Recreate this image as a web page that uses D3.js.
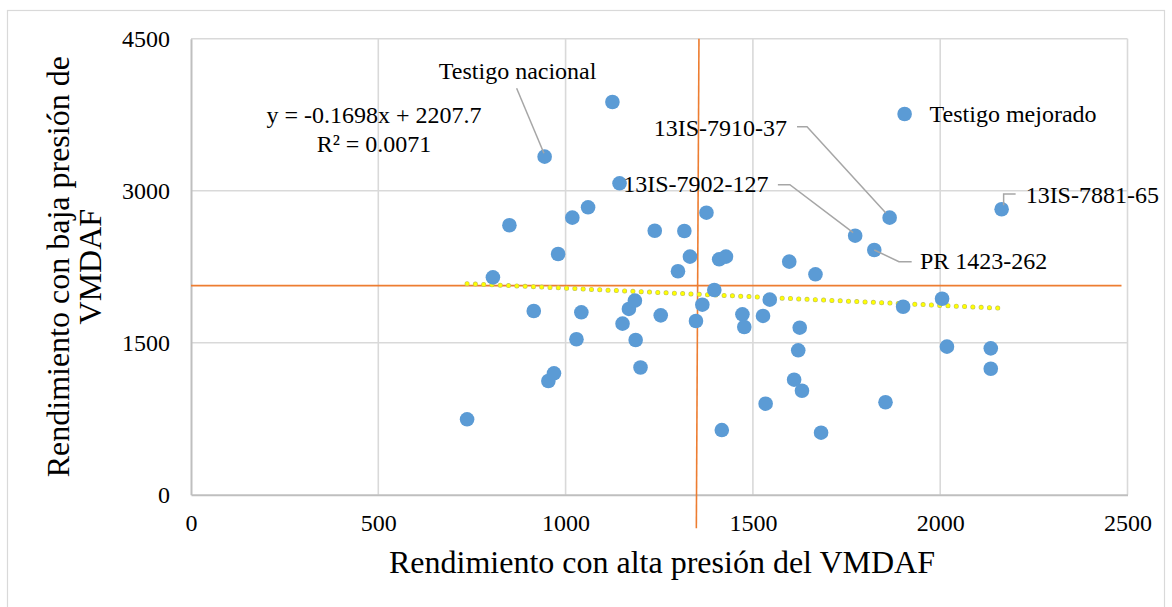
<!DOCTYPE html>
<html>
<head>
<meta charset="utf-8">
<script src="https://cdnjs.cloudflare.com/ajax/libs/d3/7.8.5/d3.min.js"></script>
<style>
  body { margin: 0; background: #fff; }
  text { font-family: "Liberation Serif", "Times New Roman", serif; fill: #000; }
</style>
</head>
<body>
<div id="chart"></div>
<script>
// rendimiento con alta presion (x) y con baja presion (y) del VMDAF
var alta = [737, 806, 850, 915, 944, 954, 969, 980, 1018, 1029, 1042, 1060, 1125, 1144, 1152,
    1169, 1185, 1187, 1200, 1238, 1254, 1300, 1317, 1332, 1348, 1365, 1376, 1397, 1410, 1428,
    1417, 1472, 1477, 1534, 1545, 1597, 1610, 1527, 1621, 1625, 1631, 1667, 1682, 1773, 1824,
    1865, 1854, 1901, 2005, 2018, 2135, 2135, 2164, 1905];
var baja = [744, 2145, 2659, 1813, 3336, 1122, 1198, 2375, 2734, 1534, 1800, 2836, 3875, 3073, 1688,
    1833, 1915, 1527, 1255, 2605, 1770, 2205, 2602, 2349, 1714, 1875, 2783, 2020, 2323, 2349,
    638, 1780, 1655, 898, 1925, 2300, 1135, 1764, 1425, 1648, 1026, 2175, 612, 2556, 2415,
    2734, 912, 1855, 1934, 1461, 1444, 1243, 2817, 3757];

// puntos con nombre
var etiquetas = ["Testigo nacional", "13IS-7902-127", "PR 1423-262", "13IS-7910-37", "13IS-7881-65", "Testigo mejorado"];
var etiquetaIdx = [4, 43, 44, 45, 52, 53];

var xTicks = [0, 500, 1000, 1500, 2000, 2500];
var yTicks = [0, 1500, 3000, 4500];

// tendencia lineal (de Excel)
var pendiente = -0.1698, intercepto = 2207.7;
var ecuacion = ["y = -0.1698x + 2207.7", "R\u00b2 = 0.0071"];

// lineas naranjas (medias)
var lineaHorizX = [0, 2484], lineaHorizY = [2063, 2063];
var lineaVertX = [1356, 1349], lineaVertY = [4500, -330];

var W = 1172, H = 607;
var margin = { top: 38.7, left: 191, right: 44.5, bottom: 112.3 };
var width = W - margin.left - margin.right,
    height = H - margin.top - margin.bottom;

var svg = d3.select("#chart").append("svg")
    .attr("width", W)
    .attr("height", H);

// marco exterior
svg.append("rect")
    .attr("x", 7.5).attr("y", 10.5)
    .attr("width", 1157).attr("height", 640)
    .attr("fill", "none")
    .attr("stroke", "#d9d9d9")
    .attr("stroke-width", 1.2);

var g = svg.append("g")
    .attr("transform", "translate(" + margin.left + "," + margin.top + ")");

var x = d3.scaleLinear().domain([0, 2500]).range([0, width]);
var y = d3.scaleLinear().domain([0, 4500]).range([height, 0]);

// cuadricula
g.append("g").selectAll("line")
    .data(xTicks.slice(1))
    .enter().append("line")
    .attr("x1", function(d) { return x(d); })
    .attr("x2", function(d) { return x(d); })
    .attr("y1", 0).attr("y2", height)
    .attr("stroke", "#d9d9d9").attr("stroke-width", 1.6);

g.append("g").selectAll("line")
    .data(yTicks.slice(1))
    .enter().append("line")
    .attr("x1", 0).attr("x2", width)
    .attr("y1", function(d) { return y(d); })
    .attr("y2", function(d) { return y(d); })
    .attr("stroke", "#d9d9d9").attr("stroke-width", 1.6);

// ejes
var xAxis = d3.axisBottom(x).tickValues(xTicks).tickFormat(d3.format("d")).tickSize(0).tickPadding(19.3);
var yAxis = d3.axisLeft(y).tickValues(yTicks).tickFormat(d3.format("d")).tickSize(0).tickPadding(21);

var gx = g.append("g")
    .attr("transform", "translate(0," + height + ")")
    .call(xAxis);
var gy = g.append("g").call(yAxis);

[gx, gy].forEach(function(a) {
    a.attr("font-family", null).attr("font-size", null);
    a.select(".domain").attr("stroke", "#bfbfbf").attr("stroke-width", 2);
    a.selectAll("text")
        .style("font-size", "24px")
        .attr("fill", "#000");
});

// lineas naranjas
var lineFn = d3.line()
    .x(function(d) { return x(d[0]); })
    .y(function(d) { return y(d[1]); });

g.append("path")
    .datum(d3.zip(lineaHorizX, lineaHorizY))
    .attr("d", lineFn)
    .attr("fill", "none")
    .attr("stroke", "#ed7d31")
    .attr("stroke-width", 1.6);

g.append("path")
    .datum(d3.zip(lineaVertX, lineaVertY))
    .attr("d", lineFn)
    .attr("fill", "none")
    .attr("stroke", "#ed7d31")
    .attr("stroke-width", 1.6);

// linea de tendencia punteada
var ext = d3.extent(alta);
var tendencia = ext.map(function(v) { return [v, pendiente * v + intercepto]; });

g.append("path")
    .datum(tendencia)
    .attr("d", lineFn)
    .attr("fill", "none")
    .attr("stroke", "#c2c25a")
    .attr("stroke-width", 5)
    .attr("stroke-linecap", "round")
    .attr("stroke-dasharray", "0 8.3");

g.append("path")
    .datum(tendencia)
    .attr("d", lineFn)
    .attr("fill", "none")
    .attr("stroke", "#ffff00")
    .attr("stroke-width", 3.8)
    .attr("stroke-linecap", "round")
    .attr("stroke-dasharray", "0 8.3");

// puntos
var data = alta.map(function(v, i) { return { x: v, y: baja[i] }; });

g.append("g").selectAll("circle")
    .data(data)
    .enter().append("circle")
    .attr("cx", function(d) { return x(d.x); })
    .attr("cy", function(d) { return y(d.y); })
    .attr("r", 7.3)
    .attr("fill", "#5b9bd5");

// etiquetas: posicion del texto y linea guia relativas al punto
var colocacion = [
    { dx: -27, dy: -78, anchor: "middle", guia: [[-28, -68.4], [-0.7, -3.4]] },
    { dx: -86.6, dy: -43.7, anchor: "end", guia: [[-77.3, -51], [-65.3, -51], [-2, -3]] },
    { dx: 45.7, dy: 19.5, anchor: "start", guia: [[0, 0], [24.7, 11.7], [37.4, 11.7]] },
    { dx: -102.6, dy: -82, anchor: "end", guia: [[-92.6, -91], [-82.6, -91], [-4, -5]] },
    { dx: 24, dy: -6, anchor: "start", guia: [[2, -4], [2, -15.3], [14, -15.3]] },
    { dx: 25, dy: 8.3, anchor: "start", guia: null }
];

etiquetas.forEach(function(nombre, k) {
    var d = data[etiquetaIdx[k]], c = colocacion[k];
    var px = x(d.x), py = y(d.y);
    if (c.guia) {
        g.append("path")
            .attr("d", d3.line()(c.guia.map(function(p) { return [px + p[0], py + p[1]]; })))
            .attr("fill", "none")
            .attr("stroke", "#a6a6a6")
            .attr("stroke-width", 1.5);
    }
    g.append("text")
        .attr("x", px + c.dx)
        .attr("y", py + c.dy)
        .attr("text-anchor", c.anchor)
        .style("font-size", "24px")
        .text(nombre);
});

// ecuacion de la tendencia
svg.selectAll(".eq")
    .data(ecuacion)
    .enter().append("text")
    .attr("class", "eq")
    .attr("x", 374)
    .attr("y", function(d, i) { return 123.3 + i * 28.4; })
    .attr("text-anchor", "middle")
    .style("font-size", "24px")
    .text(function(d) { return d; });

// titulos de ejes
svg.append("text")
    .attr("x", 662)
    .attr("y", 573)
    .attr("text-anchor", "middle")
    .style("font-size", "32px")
    .text("Rendimiento con alta presi\u00f3n del VMDAF");

var yTitle = svg.append("text")
    .attr("transform", "translate(69," + (margin.top + height / 2) + ") rotate(-90)")
    .attr("text-anchor", "middle")
    .style("font-size", "32px");
yTitle.append("tspan").attr("x", 0).attr("dy", 0).text("Rendimiento con baja presi\u00f3n de");
yTitle.append("tspan").attr("x", 0).attr("dy", 32).text("VMDAF");
</script>
</body>
</html>
